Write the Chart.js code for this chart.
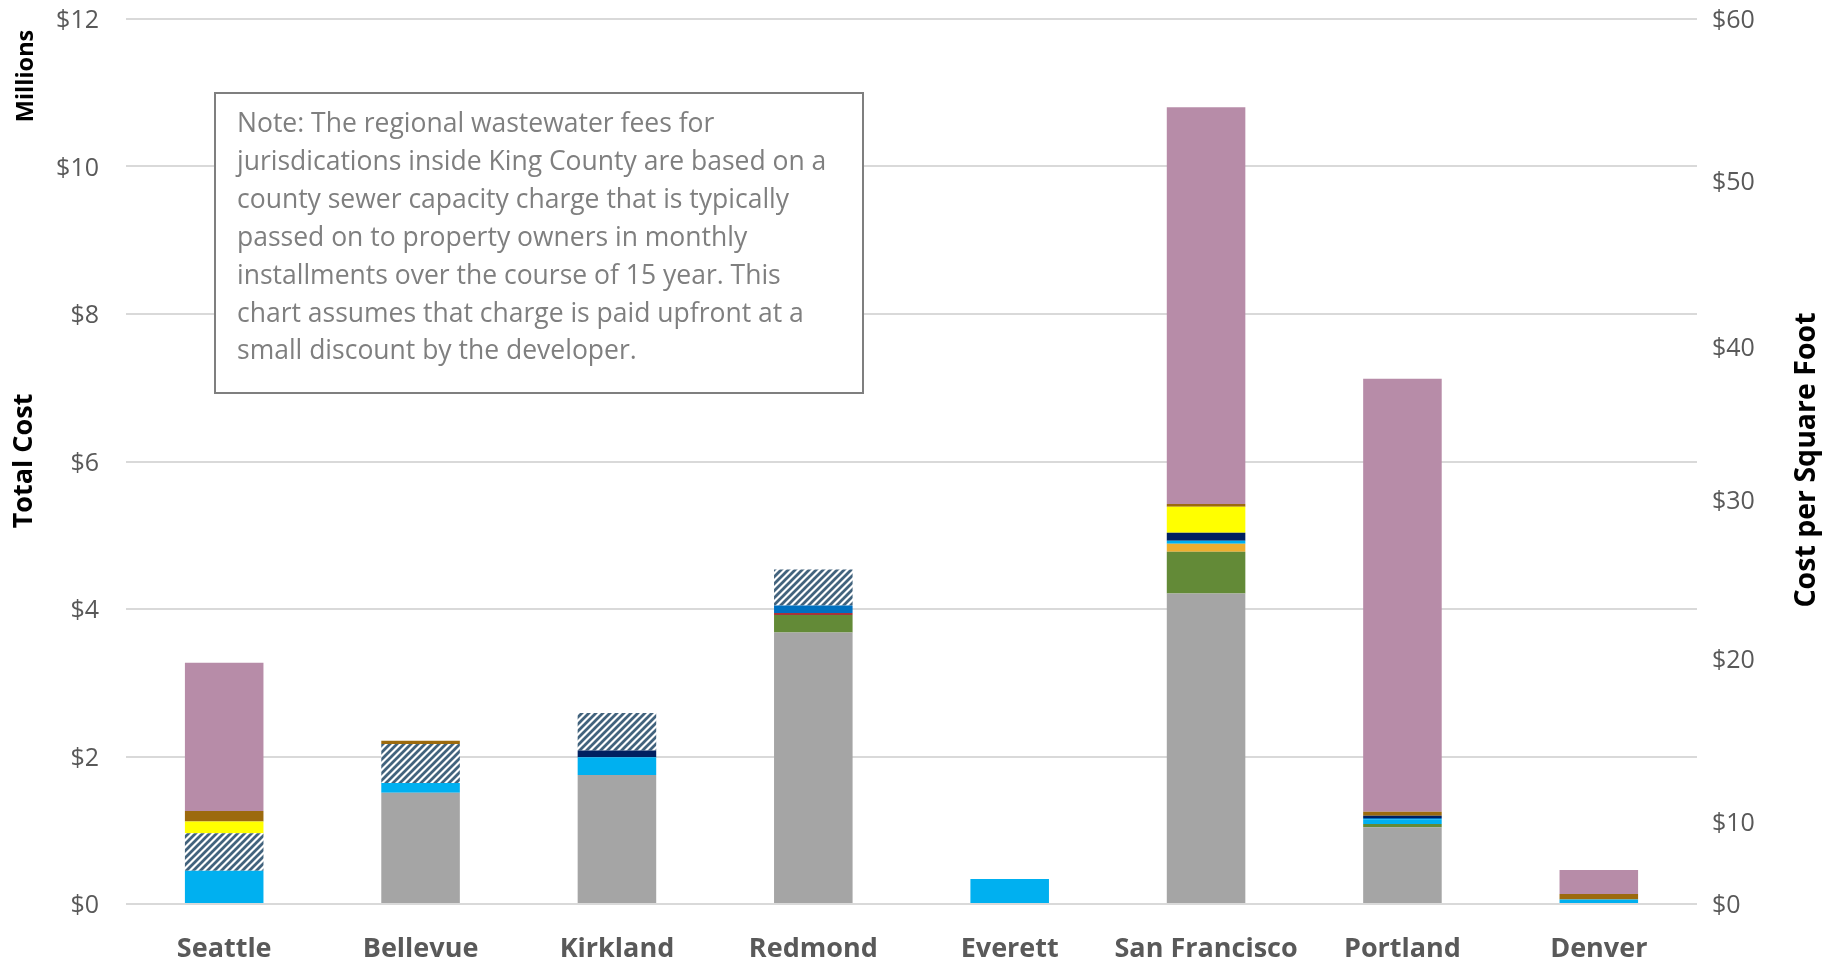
<!DOCTYPE html>
<html>
<head>
<meta charset="utf-8">
<script src="https://cdn.jsdelivr.net/npm/chart.js@4/dist/chart.umd.min.js"></script>
<style>
  html, body { margin: 0; padding: 0; background: #ffffff; overflow: hidden; }
  #wrap { width: 1829px; height: 964px; }
</style>
</head>
<body>
<div id="wrap"><canvas id="feeChart" width="1829" height="964"></canvas></div>
<script>
// Cities along the x axis
var cities = ['Seattle', 'Bellevue', 'Kirkland', 'Redmond', 'Everett', 'San Francisco', 'Portland', 'Denver'];

// Fee components, millions of dollars, stacked bottom to top
var grayFees      = [0,    1.51, 1.75, 3.68,  0,    4.21,  1.04,  0];
var greenFees     = [0,    0,    0,    0.24,  0,    0.565, 0.046, 0];
var redFees       = [0,    0,    0,    0.027, 0,    0,     0,     0];
var orangeFees    = [0,    0,    0,    0,     0,    0.11,  0,     0];
var lightBlueFees = [0.45, 0.13, 0.24, 0,     0.34, 0.04,  0.062, 0.06];
var blueFees      = [0,    0,    0,    0.10,  0,    0,     0.019, 0];
var navyFees      = [0,    0,    0.09, 0,     0,    0.11,  0.031, 0];
var wastewaterFees = [0.51, 0.53, 0.51, 0.49, 0,    0,     0,     0];
var yellowFees    = [0.16, 0,    0,    0,     0,    0.35,  0,     0];
var brownFees     = [0.14, 0.045, 0,   0,     0,    0.04,  0.054, 0.077];
var mauveFees     = [2.01, 0,    0,    0,     0,    5.38,  5.87,  0.325];

// Left axis (millions) and the per-square-foot labels on the right
var leftTicks = [0, 2, 4, 6, 8, 10, 12];
var rightTickLabels = ['$0', '$10', '$20', '$30', '$40', '$50', '$60'];
var rightTickAt = [0, 5.6, 16.6, 27.4, 37.8, 49.0, 60];

var noteLines = [
    'Note: The regional wastewater fees for',
    'jurisdications inside King County are based on a',
    'county sewer capacity charge that is typically',
    'passed on to property owners in monthly',
    'installments over the course of 15 year. This',
    'chart assumes that charge is paid upfront at a',
    'small discount by the developer.'
];

var FONT = "'Open Sans', 'Noto Sans', sans-serif";

function makeHatch() {
    var c = document.createElement('canvas');
    c.width = 7;
    c.height = 7;
    var g = c.getContext('2d');
    g.fillStyle = '#ffffff';
    g.fillRect(0, 0, 7, 7);
    g.strokeStyle = '#42637d';
    g.lineWidth = 2.8;
    g.beginPath();
    g.moveTo(-2, 9); g.lineTo(9, -2);
    g.moveTo(-2, 2); g.lineTo(2, -2);
    g.moveTo(5, 9); g.lineTo(9, 5);
    g.stroke();
    return g.createPattern(c, 'repeat');
}

function ds(label, data, color) {
    return { label: label, data: data, backgroundColor: color, borderWidth: 0, stack: 'fees' };
}

// no extra room for half tick labels; the layout padding sets the plot top
function noLabelPadding(s) {
    s.paddingTop = 0;
    s.paddingBottom = 0;
}

// titles, "Millions" and the note box
var overlay = {
    id: 'overlay',
    afterDraw: function (chart) {
        var ctx = chart.ctx;
        ctx.save();
        ctx.fillStyle = '#000000';
        ctx.textAlign = 'center';
        ctx.textBaseline = 'middle';

        ctx.save();
        ctx.translate(26, 76);
        ctx.rotate(-Math.PI / 2);
        ctx.font = 'bold 23.5px ' + FONT;
        ctx.fillText('Millions', 0, 0);
        ctx.restore();

        ctx.save();
        ctx.translate(24, 461);
        ctx.rotate(-Math.PI / 2);
        ctx.font = 'bold 27px ' + FONT;
        ctx.fillText('Total Cost', 0, 0);
        ctx.restore();

        ctx.save();
        ctx.translate(1807, 460);
        ctx.rotate(-Math.PI / 2);
        ctx.font = 'bold 28.5px ' + FONT;
        ctx.fillText('Cost per Square Foot', 0, 0);
        ctx.restore();

        // note box
        ctx.fillStyle = '#ffffff';
        ctx.fillRect(215, 93, 648, 300);
        ctx.strokeStyle = '#7f7f7f';
        ctx.lineWidth = 2;
        ctx.strokeRect(215, 93, 648, 300);
        ctx.fillStyle = '#7f7f7f';
        ctx.textAlign = 'left';
        ctx.font = '26.5px ' + FONT;
        for (var i = 0; i < noteLines.length; i++) {
            ctx.fillText(noteLines[i], 237, 124.5 + i * 37.9);
        }
        ctx.restore();
    }
};

var hatch = makeHatch();

new Chart(document.getElementById('feeChart'), {
    type: 'bar',
    data: {
        labels: cities,
        datasets: [
            ds('Gray', grayFees, '#a5a5a5'),
            ds('Green', greenFees, '#638a37'),
            ds('Red', redFees, '#a8343a'),
            ds('Orange', orangeFees, '#eeae2f'),
            ds('Light blue', lightBlueFees, '#00b0f0'),
            ds('Blue', blueFees, '#0070c0'),
            ds('Navy', navyFees, '#002060'),
            ds('Regional wastewater', wastewaterFees, hatch),
            ds('Yellow', yellowFees, '#ffff00'),
            ds('Brown', brownFees, '#9c6a0e'),
            ds('Mauve', mauveFees, '#b78ca8')
        ]
    },
    options: {
        responsive: false,
        animation: false,
        devicePixelRatio: 1,
        layout: { padding: { top: 19, left: 0, right: 0, bottom: 0 } },
        datasets: { bar: { categoryPercentage: 1, barPercentage: 0.4 } },
        plugins: { legend: { display: false }, tooltip: { enabled: false } },
        scales: {
            x: {
                stacked: true,
                grid: { display: false },
                border: { display: false },
                ticks: {
                    color: '#595959',
                    padding: 21,
                    maxRotation: 0,
                    font: { family: FONT, size: 27, weight: 'bold' }
                },
                afterFit: function (s) { s.height = 60; }
            },
            y: {
                stacked: true,
                position: 'left',
                min: 0,
                max: 12,
                grid: { color: '#d9d9d9', lineWidth: 2, drawTicks: false },
                border: { display: false },
                afterBuildTicks: function (s) {
                    s.ticks = leftTicks.map(function (v) { return { value: v }; });
                },
                ticks: {
                    color: '#595959',
                    padding: 27,
                    labelOffset: 2,
                    font: { family: FONT, size: 25 },
                    callback: function (v) { return '$' + v; }
                },
                afterFit: function (s) { s.width = 126; noLabelPadding(s); }
            },
            y2: {
                position: 'right',
                min: 0,
                max: 60,
                grid: { display: false, drawTicks: false },
                border: { display: false },
                afterBuildTicks: function (s) {
                    s.ticks = rightTickAt.map(function (v) { return { value: v }; });
                },
                ticks: {
                    color: '#595959',
                    padding: 15,
                    labelOffset: 2,
                    font: { family: FONT, size: 25 },
                    callback: function (v, i) { return rightTickLabels[i]; }
                },
                afterFit: function (s) { s.width = 132; noLabelPadding(s); }
            }
        }
    },
    plugins: [overlay]
});
</script>
</body>
</html>
